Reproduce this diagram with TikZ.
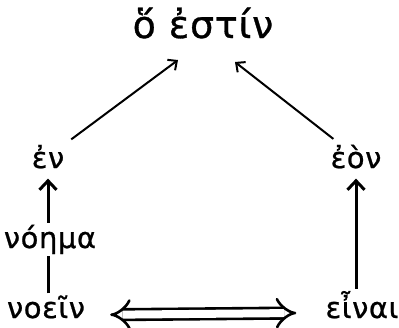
\documentclass[tikz,border=0pt]{standalone}
\usepackage{fontspec}
\setmainfont{DejaVu Sans}
\newfontfamily\grwide[LetterSpace=2,FakeBold=0.8]{DejaVu Sans}
\usetikzlibrary{arrows.meta}

\begin{document}
\begin{tikzpicture}[x=1pt,y=-1pt,
  word/.style={inner sep=2pt, anchor=base, font=\grwide\fontsize{29}{32}\selectfont},
  thinarrow/.style={-{Straight Barb[length=7pt,width=13pt]}, line width=2pt},
  thickarrow/.style={-{Straight Barb[length=9pt,width=17pt]}, line width=3pt}]
  \useasboundingbox (0,0) rectangle (399,327);
  % the two sources and what they become
  \node[word, font=\grwide\fontsize{38}{42}\selectfont] (hoestin) at (203,38) {ὅ ἐστίν};
  \node[word] (hen) at (48,168) {ἐν};
  \node[word] (eon) at (356,168) {ἐὸν};
  \node[word] (noema) at (50,248) {νόημα};
  \node[word] (noein) at (46,318) {νοεῖν};
  \node[word] (einai) at (362,318) {εἶναι};
  \coordinate (tipL) at (178,60);
  \coordinate (tipR) at (235,62);
  % up to the top
  \draw[thinarrow, shorten <=6pt] (hen) -- (tipL);
  \draw[thinarrow, shorten <=6pt] (eon) -- (tipR);
  % left and right columns
  \draw[line width=3pt] (noein.north -| hen) -- (noema.south -| hen);
  \draw[thickarrow, shorten >=8pt] (noema.north -| hen) -- (hen.south);
  \draw[thickarrow, shorten >=8pt] (einai.north -| eon) -- (eon.south);
  % bottom
  \draw[double, double distance=8pt, line width=2.6pt, {Implies}-{Implies},
    shorten <=23pt, shorten >=27pt] ([yshift=-8pt]noein.east) -- ([yshift=-8pt]einai.west);
\end{tikzpicture}
\end{document}
